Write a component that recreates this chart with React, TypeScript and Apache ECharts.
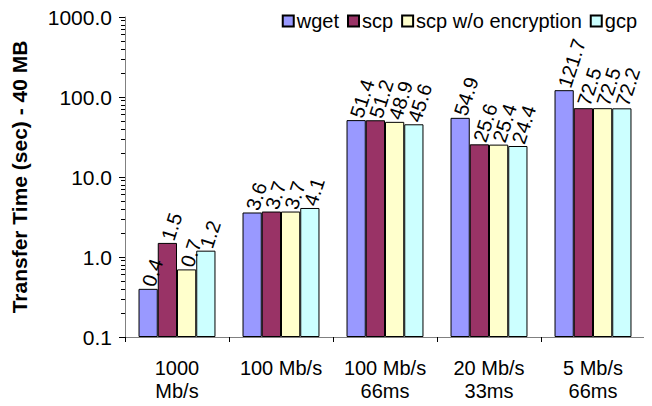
import React, { useEffect, useRef } from "react";
import * as echarts from "echarts";

const categories = ["1000\nMb/s", "100 Mb/s", "100 Mb/s\n66ms", "20 Mb/s\n33ms", "5 Mb/s\n66ms"];
const seriesNames = ["wget", "scp", "scp w/o encryption", "gcp"];
const wget = [0.4, 3.6, 51.4, 54.9, 121.7];
const scp = [1.5, 3.7, 51.2, 25.6, 72.5];
const scpNoEnc = [0.7, 3.7, 48.9, 25.4, 72.5];
const gcp = [1.2, 4.1, 45.6, 24.4, 72.2];
const colors = ["#9999FF", "#993366", "#FFFFCC", "#CCFFFF"];
const minorTickValues = [
  0.2, 0.3, 0.4, 0.5, 0.6, 0.7, 0.8, 0.9,
  2, 3, 4, 5, 6, 7, 8, 9,
  20, 30, 40, 50, 60, 70, 80, 90,
  200, 300, 400, 500, 600, 700, 800, 900,
];

const FONT = "'Liberation Sans', Arial, sans-serif";

export default function App() {
  const ref = useRef<HTMLDivElement>(null);
  useEffect(() => {
    if (!ref.current) return;
    const chart = echarts.init(ref.current, undefined, { renderer: "svg" });
    const data = [wget, scp, scpNoEnc, gcp];
    chart.setOption({
      animation: false,
      textStyle: { fontFamily: FONT },
      legend: {
        top: 6,
        right: 10,
        itemWidth: 11,
        itemHeight: 11,
        itemGap: 8,
        icon: "rect",
        textStyle: { fontFamily: FONT, fontSize: 20, color: "#000", padding: [0, 0, 0, -2] },
        data: seriesNames,
      },
      grid: { left: 125, right: 7, top: 17, bottom: 69, containLabel: false },
      xAxis: {
        type: "category",
        data: categories,
        axisLine: { lineStyle: { color: "#808080", width: 1 } },
        axisTick: { show: true, length: 5, alignWithLabel: false, lineStyle: { color: "#000" } },
        axisLabel: { fontFamily: FONT, fontSize: 20, color: "#000", lineHeight: 23, margin: 19, interval: 0 },
      },
      yAxis: [
        {
          type: "log",
          logBase: 10,
          min: 0.1,
          max: 1000,
          startValue: 0.1,
          name: "Transfer Time (sec) - 40 MB",
          nameLocation: "middle",
          nameGap: 95,
          nameTextStyle: { fontFamily: FONT, fontSize: 21, fontWeight: "bold", color: "#000" },
          axisLine: { show: true, lineStyle: { color: "#808080" } },
          axisTick: { show: true, length: 6, lineStyle: { color: "#000" } },
          axisLabel: {
            fontFamily: FONT,
            fontSize: 21,
            color: "#000",
            margin: 13,
            formatter: (v: number) => v.toFixed(1),
          },
          splitLine: { show: false },
        },
        {
          type: "log",
          logBase: 10,
          min: 0.1,
          max: 1000,
          position: "left",
          axisLine: { show: false },
          axisLabel: { show: false },
          splitLine: { show: false },
          axisTick: { show: true, length: 4, customValues: minorTickValues, lineStyle: { color: "#000" } },
        },
      ],
      series: seriesNames.map((name, i) => ({
        name,
        type: "bar",
        yAxisIndex: 0,
        data: data[i],
        barGap: "0%",
        barCategoryGap: "26%",
        itemStyle: { color: colors[i], borderColor: "#000", borderWidth: 1 },
        label: {
          show: true,
          position: "top",
          rotate: 72,
          align: "left",
          verticalAlign: "middle",
          distance: 3,
          fontFamily: FONT,
          fontSize: 20,
          color: "#000",
          formatter: (p: any) => Number(p.value).toFixed(1),
        },
      })),
    });
    return () => chart.dispose();
  }, []);
  return <div ref={ref} style={{ width: 652, height: 406, margin: -8 }} />;
}
